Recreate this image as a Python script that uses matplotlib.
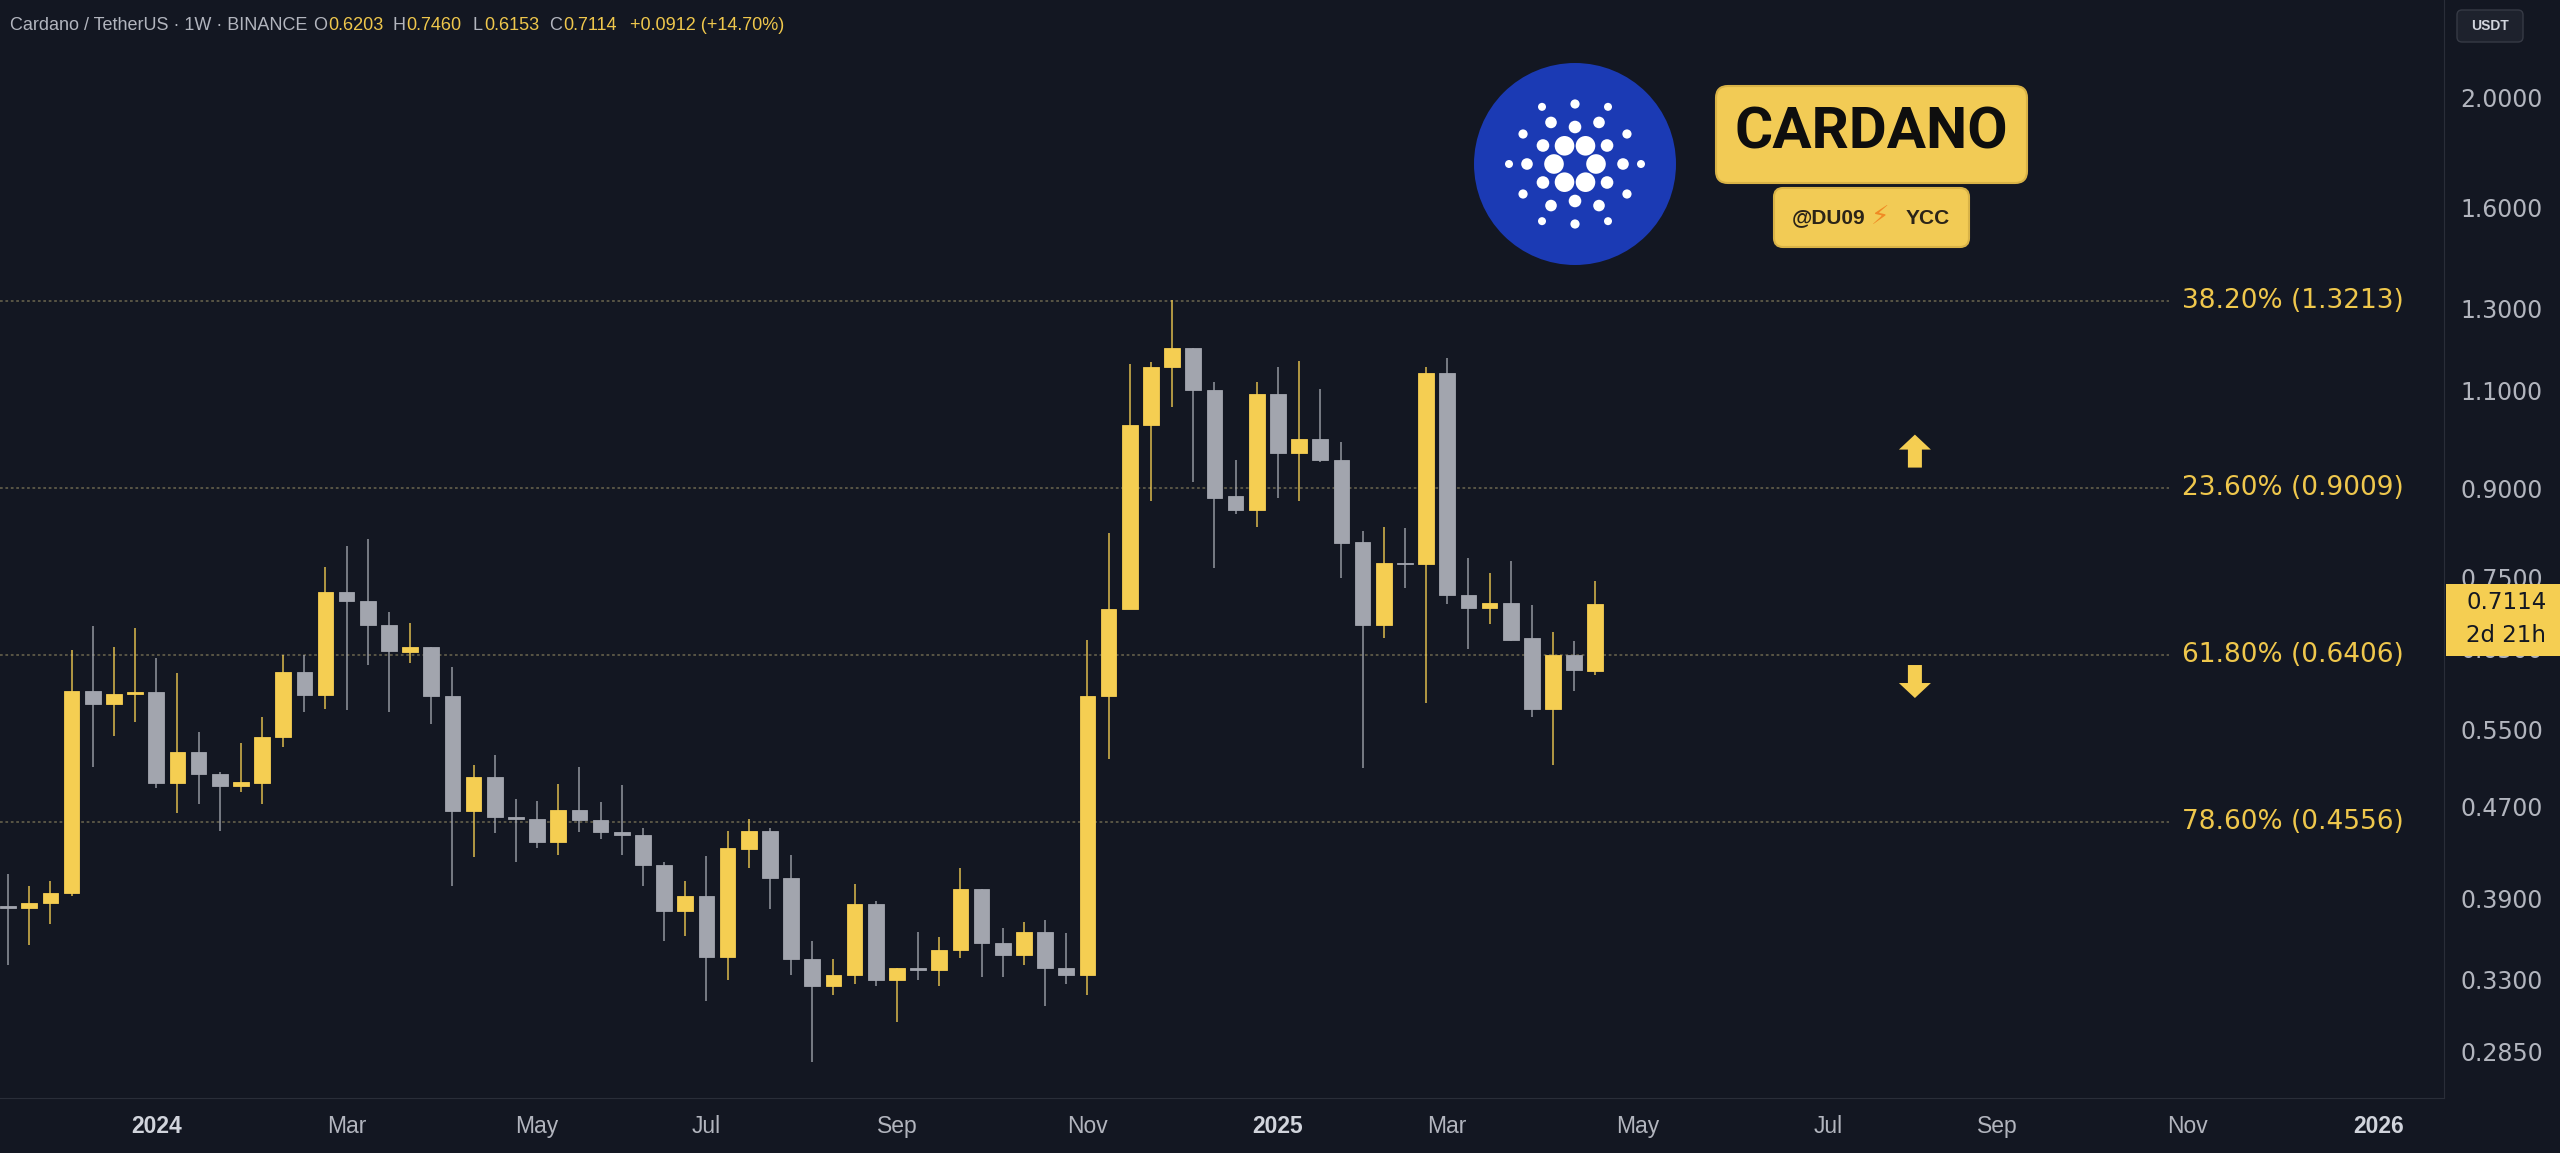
import numpy as np
import pandas as pd
import matplotlib
matplotlib.use("Agg")
import matplotlib.pyplot as plt
from matplotlib.patches import Rectangle, FancyBboxPatch, Circle, Polygon

# weekly ADA/USDT candles (Binance), week open dates start 2023-11-13
start_week = "2023-11-13"
opens = [0.384, 0.382, 0.386, 0.394, 0.595, 0.580, 0.592, 0.594, 0.493, 0.526,
         0.502, 0.490, 0.493, 0.542, 0.619, 0.591, 0.729, 0.716, 0.681, 0.645,
         0.651, 0.589, 0.466, 0.499, 0.460, 0.458, 0.437, 0.467, 0.457, 0.446,
         0.444, 0.417, 0.380, 0.392, 0.346, 0.431, 0.447, 0.406, 0.344, 0.326,
         0.333, 0.385, 0.330, 0.338, 0.337, 0.351, 0.397, 0.356, 0.347, 0.364,
         0.338, 0.333, 0.589, 0.704, 1.026, 1.154, 1.200, 1.101, 0.886, 0.861,
         1.093, 0.968, 0.996, 0.955, 0.807, 0.682, 0.774, 0.772, 1.139, 0.724,
         0.705, 0.713, 0.663, 0.574, 0.641, 0.6203]
highs = [0.410, 0.400, 0.404, 0.648, 0.680, 0.652, 0.677, 0.637, 0.618, 0.548,
         0.505, 0.535, 0.565, 0.641, 0.641, 0.767, 0.801, 0.813, 0.700, 0.684,
         0.651, 0.625, 0.512, 0.522, 0.477, 0.476, 0.492, 0.510, 0.475, 0.491,
         0.450, 0.420, 0.404, 0.425, 0.447, 0.458, 0.450, 0.426, 0.357, 0.344,
         0.401, 0.388, 0.338, 0.364, 0.360, 0.415, 0.397, 0.367, 0.371, 0.373,
         0.363, 0.661, 0.822, 1.162, 1.167, 1.323, 1.200, 1.120, 0.954, 1.120,
         1.154, 1.168, 1.104, 0.991, 0.826, 0.833, 0.831, 1.154, 1.175, 0.781,
         0.757, 0.776, 0.710, 0.672, 0.659, 0.7460]
lows = [0.340, 0.354, 0.370, 0.392, 0.510, 0.543, 0.559, 0.488, 0.464, 0.473,
        0.447, 0.484, 0.473, 0.531, 0.570, 0.574, 0.573, 0.628, 0.570, 0.631,
        0.557, 0.400, 0.424, 0.445, 0.420, 0.432, 0.426, 0.446, 0.440, 0.426,
        0.400, 0.357, 0.361, 0.316, 0.330, 0.415, 0.381, 0.333, 0.279, 0.320,
        0.327, 0.326, 0.303, 0.330, 0.326, 0.345, 0.332, 0.332, 0.340, 0.313,
        0.327, 0.320, 0.518, 0.704, 0.878, 1.063, 0.913, 0.766, 0.855, 0.833,
        0.883, 0.878, 0.950, 0.750, 0.509, 0.663, 0.735, 0.581, 0.711, 0.649,
        0.683, 0.659, 0.564, 0.512, 0.595, 0.6153]
closes = [0.382, 0.386, 0.394, 0.595, 0.580, 0.592, 0.594, 0.493, 0.526, 0.502,
          0.490, 0.494, 0.542, 0.619, 0.591, 0.729, 0.716, 0.681, 0.646, 0.651,
          0.589, 0.466, 0.499, 0.460, 0.458, 0.437, 0.467, 0.457, 0.446, 0.444,
          0.417, 0.380, 0.392, 0.346, 0.432, 0.447, 0.406, 0.344, 0.326, 0.333,
          0.385, 0.330, 0.338, 0.337, 0.351, 0.397, 0.356, 0.347, 0.364, 0.338,
          0.333, 0.589, 0.704, 1.026, 1.154, 1.200, 1.101, 0.883, 0.861, 1.093,
          0.968, 0.996, 0.955, 0.806, 0.682, 0.773, 0.772, 1.139, 0.724, 0.705,
          0.713, 0.661, 0.574, 0.641, 0.622, 0.7114]

fib_levels = [1.3213, 0.9009, 0.6406, 0.4556]
fib_labels = ["38.20% (1.3213)", "23.60% (0.9009)", "61.80% (0.6406)", "78.60% (0.4556)"]
price_ticks = [2.0, 1.6, 1.3, 1.1, 0.9, 0.75, 0.65, 0.55, 0.47, 0.39, 0.33, 0.285]
month_ticks = ["2024-01", "2024-03", "2024-05", "2024-07", "2024-09", "2024-11",
               "2025-01", "2025-03", "2025-05", "2025-07", "2025-09", "2025-11", "2026-01"]
month_labels = ["2024", "Mar", "May", "Jul", "Sep", "Nov", "2025", "Mar", "May",
                "Jul", "Sep", "Nov", "2026"]

BG = "#131722"
UP = "#F5CE52"
DOWN = "#A2A5AE"
TXT = "#B2B5BE"
YEL = "#EFC74C"

W, H = 2560, 1153
fig = plt.figure(figsize=(W / 100, H / 100), dpi=100)
fig.patch.set_facecolor(BG)
ax = fig.add_axes([0, 55 / H, 2444 / W, 1098 / H])
ax.set_facecolor(BG)

start = pd.Timestamp(start_week)
x = np.arange(len(opens))
o, h, l, c = map(np.array, (opens, highs, lows, closes))
up = c >= o
cols = np.where(up, UP, DOWN)

# wicks then bodies
ax.vlines(x, l, h, colors=cols, linewidth=1.4, alpha=0.7, zorder=2)
body_lo = np.minimum(o, c)
body_hi = np.maximum(o, c)
ax.bar(x, body_hi - body_lo, bottom=body_lo, width=0.74, color=cols,
       edgecolor=cols, linewidth=0.6, zorder=3)

ax.set_yscale("log")
ax.set_ylim(0.2592, 2.443)
ax.set_xlim(-0.38, 115.1)

# fibonacci levels
for lev, lab in zip(fib_levels, fib_labels):
    ax.hlines(lev, -0.38, 102.1, colors="#5e5a48", linewidth=1.3,
              linestyles=(0, (1.5, 1.5)), zorder=1)
    ax.text(113.2, lev, lab, ha="right", va="center", color=YEL,
            fontsize=19, family="DejaVu Sans", zorder=5)

# price scale on the right
ax.yaxis.tick_right()
ax.set_yticks(price_ticks)
ax.set_yticklabels([f"{v:.4f}" for v in price_ticks])
ax.yaxis.set_minor_locator(matplotlib.ticker.NullLocator())
ax.tick_params(axis="y", length=0, pad=12, labelsize=17, labelcolor=TXT)

# time scale: first weekly bar of each month
xt = []
for m in month_ticks:
    d = pd.Timestamp(m + "-01")
    d = d + pd.Timedelta(days=(7 - d.weekday()) % 7)
    xt.append((d - start).days / 7)
ax.set_xticks(xt)
ax.set_xticklabels(month_labels)
ax.tick_params(axis="x", length=0, pad=12, labelsize=16.5, labelcolor=TXT)
for t, lab in zip(ax.get_xticklabels(), month_labels):
    t.set_family("Liberation Sans")
    if lab.isdigit():
        t.set_color("#D1D4DC")
        t.set_fontweight("bold")
for t in ax.get_yticklabels():
    t.set_family("DejaVu Sans")

for s in ax.spines.values():
    s.set_visible(False)
ax.spines["right"].set_visible(True)
ax.spines["right"].set_color("#2A2E39")
ax.spines["bottom"].set_visible(True)
ax.spines["bottom"].set_color("#2A2E39")

# arrows
def block_arrow(cx, cy, direction):
    pcx, pcy = ax.transData.transform((cx, cy))
    hw, sw, hh, ln = 16, 7, 15, 33
    d = direction
    pts = [(pcx, pcy + d * ln / 2), (pcx - hw, pcy + d * (ln / 2 - hh)),
           (pcx - sw, pcy + d * (ln / 2 - hh)), (pcx - sw, pcy - d * ln / 2),
           (pcx + sw, pcy - d * ln / 2), (pcx + sw, pcy + d * (ln / 2 - hh)),
           (pcx + hw, pcy + d * (ln / 2 - hh))]
    fig.patches.append(Polygon(pts, closed=True, transform=None, facecolor=UP,
                               edgecolor="none", zorder=6))

block_arrow(90.1, 0.972, 1)
block_arrow(90.1, 0.607, -1)

# current price tag
_, py = ax.transData.transform((0, closes[-1]))
fig.patches.append(Rectangle((2446, py - 52), 114, 72, transform=None,
                             facecolor=UP, edgecolor="none", zorder=10))
fig.text(2466 / W, (py + 1) / H, f"{closes[-1]:.4f}", ha="left", va="center",
         color=BG, fontsize=16.5, family="DejaVu Sans", zorder=11)
fig.text(2466 / W, (py - 32) / H, "2d 21h", ha="left", va="center",
         color=BG, fontsize=16.5, family="DejaVu Sans", zorder=11)

# USDT box
fig.patches.append(FancyBboxPatch((2457, H - 42), 66, 32, boxstyle="round,pad=0,rounding_size=5",
                                  transform=None, facecolor="#1E222D", edgecolor="#363A45",
                                  linewidth=1, zorder=10))
fig.text(2490 / W, (H - 26) / H, "USDT", ha="center", va="center", color="#D1D4DC",
         fontsize=10, fontweight="bold", family="Liberation Sans", zorder=11)

# header
hy = (H - 25) / H
fig.text(10 / W, hy, "Cardano / TetherUS · 1W · BINANCE", ha="left", va="center",
         color=TXT, fontsize=13, family="Liberation Sans")
parts = [(313, "O", TXT), (328, "0.6203", YEL), (392, "H", TXT), (406, "0.7460", YEL),
         (473, "L", TXT), (484, "0.6153", YEL), (549, "C", TXT), (563, "0.7114", YEL),
         (630, "+0.0912 (+14.70%)", YEL)]
for px, s, col in parts:
    fig.text(px / W, hy, s, ha="left", va="center", color=col, fontsize=13,
             family="Liberation Sans")

# Cardano logo
lx, ly, lr = 1575, H - 164, 101
fig.patches.append(Circle((lx, ly), lr, transform=None, facecolor="#1B3AB4",
                          edgecolor="none", zorder=7))
rings = [(21, 0, 9.8), (37, 30, 6.3), (48, 0, 5.8), (60, 30, 4.6), (66, 0, 4.0)]
for rad, off, size in rings:
    for k in range(6):
        a = np.deg2rad(off + 60 * k)
        fig.patches.append(Circle((lx + rad * np.cos(a), ly + rad * np.sin(a)), size,
                                  transform=None, facecolor="white", edgecolor="none", zorder=8))

# CARDANO badge
fig.patches.append(FancyBboxPatch((1716, H - 183), 311, 97, boxstyle="round,pad=0,rounding_size=12",
                                  transform=None, facecolor="#F2CB55", edgecolor="#D9B347",
                                  linewidth=1.5, zorder=7))
fig.text(1871 / W, (H - 133) / H, "CARDANO", ha="center", va="center", color="#0E0E0E",
         fontsize=42, fontweight="bold", family="Roboto", zorder=8)
fig.patches.append(FancyBboxPatch((1774, H - 247), 195, 59, boxstyle="round,pad=0,rounding_size=9",
                                  transform=None, facecolor="#F2CB55", edgecolor="#D9B347",
                                  linewidth=1.5, zorder=7))
by = (H - 218) / H
fig.text(1792 / W, by, "@DU09", ha="left", va="center", color="#2B2418",
         fontsize=15, fontweight="bold", family="Liberation Sans", zorder=8)
fig.text(1880 / W, by, "⚡", ha="center", va="center", color="#F08A24",
         fontsize=19, family="DejaVu Sans", zorder=8)
fig.text(1950 / W, by, "YCC", ha="right", va="center", color="#2B2418",
         fontsize=15, fontweight="bold", family="Liberation Sans", zorder=8)

fig.savefig("out.png", dpi=100, facecolor=BG)
